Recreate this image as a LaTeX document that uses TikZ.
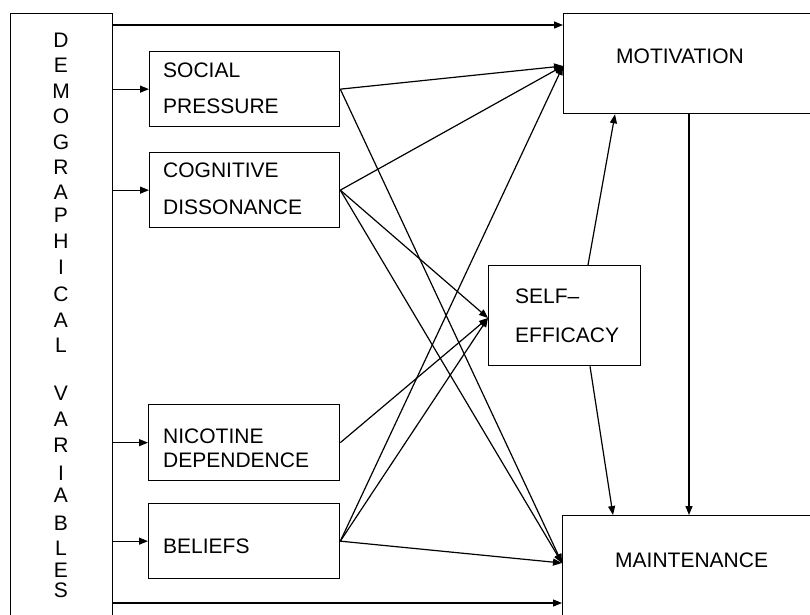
\documentclass[tikz,border=0pt]{standalone}
\usepackage{fontspec}
\setmainfont{Liberation Sans}
\usetikzlibrary{arrows.meta}
\begin{document}
\begin{tikzpicture}[x=1pt,y=-1pt,
  box/.style={draw,line width=1.3pt,rectangle,inner sep=0pt,anchor=north west},
  lbl/.style={inner sep=0pt,anchor=base west,font=\fontsize{21}{24}\selectfont},
  vlbl/.style={inner sep=0pt,anchor=base,font=\fontsize{21}{24}\selectfont},
  conn/.style={line width=1.2pt,-{Triangle[length=9pt,width=7pt]}}]
\useasboundingbox (0,0) rectangle (810,614);
\begin{scope}
\clip (0,0) rectangle (810,614);
% boxes
\node[box,minimum width=102pt,minimum height=640pt] (demo) at (10,13) {};
\node[box,minimum width=280pt,minimum height=100pt] (mot) at (563,13) {};
\node[box,minimum width=190pt,minimum height=75pt] (sp) at (149,51) {};
\node[box,minimum width=190pt,minimum height=75pt] (cd) at (149,152) {};
\node[box,minimum width=191pt,minimum height=76pt] (nd) at (148,404) {};
\node[box,minimum width=191pt,minimum height=75pt] (bel) at (148,503) {};
\node[box,minimum width=152pt,minimum height=100pt] (se) at (488,265) {};
\node[box,minimum width=280pt,minimum height=120pt] (main) at (562,515) {};
% texts
\node[lbl] (tmot) at (616,63) {MOTIVATION};
\node[lbl] (tsp1) at (163,77) {SOCIAL};
\node[lbl] (tsp2) at (163,113) {PRESSURE};
\node[lbl] (tcd1) at (163,177) {COGNITIVE};
\node[lbl] (tcd2) at (163,214) {DISSONANCE};
\node[lbl] (tnd1) at (163,443) {NICOTINE};
\node[lbl] (tnd2) at (163,467) {DEPENDENCE};
\node[lbl] (tbel) at (163,553) {BELIEFS};
\node[lbl] (tse1) at (515,303) {SELF–};
\node[lbl] (tse2) at (515,342) {EFFICACY};
\node[lbl] (tmain) at (615,567) {MAINTENANCE};
% vertical label
\foreach \l/\y [count=\i] in {D/47.5,E/72.9,M/98.3,O/123.7,G/149.1,R/174.5,A/199.9,P/222,H/248,I/274.5,C/301.5,A/327,L/352.5,V/400.5,A/426.5,R/452.5,I/480.5,A/502.5,B/530.5,L/555.5,E/577.5,S/597.5}
  \node[vlbl] (dg\i) at (61,\y) {\l};
% entry points
\coordinate (motIn) at (mot.west |- 0,66);
\coordinate (seIn) at (se.west |- 0,318);
\coordinate (mainIn) at (main.west |- 0,563);
% demographic arrows
\draw[conn] (demo.east |- 0,25) -- (mot.west |- 0,25);
\draw[conn] (demo.east |- sp.west) -- (sp.west);
\draw[conn] (demo.east |- cd.west) -- (cd.west);
\draw[conn] (demo.east |- nd.west) -- (nd.west);
\draw[conn] (demo.east |- bel.west) -- (bel.west);
\draw[conn] (demo.east |- 0,603) -- (main.west |- 0,603);
% cross connections
\draw[conn] (sp.east) -- (motIn);
\draw[conn] (sp.east) -- (mainIn);
\draw[conn] (cd.east) -- (motIn);
\draw[conn] (cd.east) -- (seIn);
\draw[conn] (cd.east) -- (mainIn);
\draw[conn] (nd.east) -- (seIn);
\draw[conn] (bel.east) -- (motIn);
\draw[conn] (bel.east) -- (seIn);
\draw[conn] (bel.east) -- (mainIn);
% self-efficacy and motivation
\draw[conn] (588,0 |- se.north) -- (615,0 |- mot.south);
\draw[conn] (590,0 |- se.south) -- (613,0 |- main.north);
\draw[conn] (689,0 |- mot.south) -- (689,0 |- main.north);
\end{scope}
\end{tikzpicture}
\end{document}
